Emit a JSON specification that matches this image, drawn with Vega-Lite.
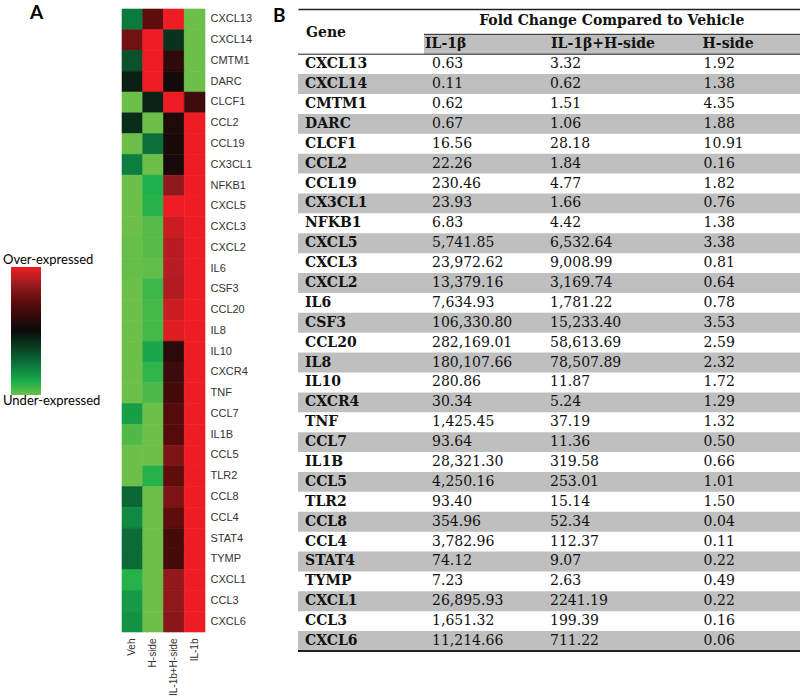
{
  "$schema": "https://vega.github.io/schema/vega-lite/v6.json",
  "background": "white",
  "padding": {"left": 11, "top": 3, "right": 0, "bottom": 0},
  "config": {"view": {"stroke": null}},
  "resolve": {"scale": {"x": "independent", "y": "independent", "color": "independent"}},
  "spacing": 21,
  "datasets": {
    "heat": [
      {"gene":"CXCL13","cond":"Veh","z":-0.55},{"gene":"CXCL13","cond":"H-side","z":0.47},{"gene":"CXCL13","cond":"IL-1b+H-side","z":1},{"gene":"CXCL13","cond":"IL-1b","z":-1},
      {"gene":"CXCL14","cond":"Veh","z":0.55},{"gene":"CXCL14","cond":"H-side","z":1},{"gene":"CXCL14","cond":"IL-1b+H-side","z":-0.2},{"gene":"CXCL14","cond":"IL-1b","z":-1},
      {"gene":"CMTM1","cond":"Veh","z":-0.35},{"gene":"CMTM1","cond":"H-side","z":1},{"gene":"CMTM1","cond":"IL-1b+H-side","z":0.2},{"gene":"CMTM1","cond":"IL-1b","z":-1},
      {"gene":"DARC","cond":"Veh","z":-0.1},{"gene":"DARC","cond":"H-side","z":1},{"gene":"DARC","cond":"IL-1b+H-side","z":0.05},{"gene":"DARC","cond":"IL-1b","z":-1},
      {"gene":"CLCF1","cond":"Veh","z":-1},{"gene":"CLCF1","cond":"H-side","z":-0.12},{"gene":"CLCF1","cond":"IL-1b+H-side","z":1},{"gene":"CLCF1","cond":"IL-1b","z":0.3},
      {"gene":"CCL2","cond":"Veh","z":-0.17},{"gene":"CCL2","cond":"H-side","z":-1},{"gene":"CCL2","cond":"IL-1b+H-side","z":0.12},{"gene":"CCL2","cond":"IL-1b","z":1},
      {"gene":"CCL19","cond":"Veh","z":-1},{"gene":"CCL19","cond":"H-side","z":-0.5},{"gene":"CCL19","cond":"IL-1b+H-side","z":0.1},{"gene":"CCL19","cond":"IL-1b","z":1},
      {"gene":"CX3CL1","cond":"Veh","z":-0.57},{"gene":"CX3CL1","cond":"H-side","z":-1},{"gene":"CX3CL1","cond":"IL-1b+H-side","z":0.08},{"gene":"CX3CL1","cond":"IL-1b","z":1},
      {"gene":"NFKB1","cond":"Veh","z":-1},{"gene":"NFKB1","cond":"H-side","z":-0.8},{"gene":"NFKB1","cond":"IL-1b+H-side","z":0.68},{"gene":"NFKB1","cond":"IL-1b","z":1},
      {"gene":"CXCL5","cond":"Veh","z":-1},{"gene":"CXCL5","cond":"H-side","z":-0.82},{"gene":"CXCL5","cond":"IL-1b+H-side","z":1},{"gene":"CXCL5","cond":"IL-1b","z":1},
      {"gene":"CXCL3","cond":"Veh","z":-1},{"gene":"CXCL3","cond":"H-side","z":-0.95},{"gene":"CXCL3","cond":"IL-1b+H-side","z":0.88},{"gene":"CXCL3","cond":"IL-1b","z":1},
      {"gene":"CXCL2","cond":"Veh","z":-0.98},{"gene":"CXCL2","cond":"H-side","z":-0.95},{"gene":"CXCL2","cond":"IL-1b+H-side","z":0.82},{"gene":"CXCL2","cond":"IL-1b","z":1},
      {"gene":"IL6","cond":"Veh","z":-0.98},{"gene":"IL6","cond":"H-side","z":-0.97},{"gene":"IL6","cond":"IL-1b+H-side","z":0.82},{"gene":"IL6","cond":"IL-1b","z":1},
      {"gene":"CSF3","cond":"Veh","z":-1},{"gene":"CSF3","cond":"H-side","z":-0.88},{"gene":"CSF3","cond":"IL-1b+H-side","z":0.8},{"gene":"CSF3","cond":"IL-1b","z":1},
      {"gene":"CCL20","cond":"Veh","z":-1},{"gene":"CCL20","cond":"H-side","z":-0.9},{"gene":"CCL20","cond":"IL-1b+H-side","z":0.88},{"gene":"CCL20","cond":"IL-1b","z":1},
      {"gene":"IL8","cond":"Veh","z":-1},{"gene":"IL8","cond":"H-side","z":-0.9},{"gene":"IL8","cond":"IL-1b+H-side","z":0.95},{"gene":"IL8","cond":"IL-1b","z":1},
      {"gene":"IL10","cond":"Veh","z":-1},{"gene":"IL10","cond":"H-side","z":-0.76},{"gene":"IL10","cond":"IL-1b+H-side","z":0.18},{"gene":"IL10","cond":"IL-1b","z":1},
      {"gene":"CXCR4","cond":"Veh","z":-1},{"gene":"CXCR4","cond":"H-side","z":-0.85},{"gene":"CXCR4","cond":"IL-1b+H-side","z":0.28},{"gene":"CXCR4","cond":"IL-1b","z":1},
      {"gene":"TNF","cond":"Veh","z":-1},{"gene":"TNF","cond":"H-side","z":-0.92},{"gene":"TNF","cond":"IL-1b+H-side","z":0.33},{"gene":"TNF","cond":"IL-1b","z":1},
      {"gene":"CCL7","cond":"Veh","z":-0.72},{"gene":"CCL7","cond":"H-side","z":-1},{"gene":"CCL7","cond":"IL-1b+H-side","z":0.42},{"gene":"CCL7","cond":"IL-1b","z":1},
      {"gene":"IL1B","cond":"Veh","z":-0.93},{"gene":"IL1B","cond":"H-side","z":-1},{"gene":"IL1B","cond":"IL-1b+H-side","z":0.42},{"gene":"IL1B","cond":"IL-1b","z":1},
      {"gene":"CCL5","cond":"Veh","z":-1},{"gene":"CCL5","cond":"H-side","z":-1},{"gene":"CCL5","cond":"IL-1b+H-side","z":0.6},{"gene":"CCL5","cond":"IL-1b","z":1},
      {"gene":"TLR2","cond":"Veh","z":-1},{"gene":"TLR2","cond":"H-side","z":-0.82},{"gene":"TLR2","cond":"IL-1b+H-side","z":0.47},{"gene":"TLR2","cond":"IL-1b","z":1},
      {"gene":"CCL8","cond":"Veh","z":-0.45},{"gene":"CCL8","cond":"H-side","z":-1},{"gene":"CCL8","cond":"IL-1b+H-side","z":0.6},{"gene":"CCL8","cond":"IL-1b","z":1},
      {"gene":"CCL4","cond":"Veh","z":-0.62},{"gene":"CCL4","cond":"H-side","z":-1},{"gene":"CCL4","cond":"IL-1b+H-side","z":0.47},{"gene":"CCL4","cond":"IL-1b","z":1},
      {"gene":"STAT4","cond":"Veh","z":-0.48},{"gene":"STAT4","cond":"H-side","z":-1},{"gene":"STAT4","cond":"IL-1b+H-side","z":0.33},{"gene":"STAT4","cond":"IL-1b","z":1},
      {"gene":"TYMP","cond":"Veh","z":-0.47},{"gene":"TYMP","cond":"H-side","z":-1},{"gene":"TYMP","cond":"IL-1b+H-side","z":0.33},{"gene":"TYMP","cond":"IL-1b","z":1},
      {"gene":"CXCL1","cond":"Veh","z":-0.82},{"gene":"CXCL1","cond":"H-side","z":-1},{"gene":"CXCL1","cond":"IL-1b+H-side","z":0.7},{"gene":"CXCL1","cond":"IL-1b","z":1},
      {"gene":"CCL3","cond":"Veh","z":-0.7},{"gene":"CCL3","cond":"H-side","z":-1},{"gene":"CCL3","cond":"IL-1b+H-side","z":0.68},{"gene":"CCL3","cond":"IL-1b","z":1},
      {"gene":"CXCL6","cond":"Veh","z":-0.66},{"gene":"CXCL6","cond":"H-side","z":-1},{"gene":"CXCL6","cond":"IL-1b+H-side","z":0.65},{"gene":"CXCL6","cond":"IL-1b","z":1}
    ],
    "tbl": [
      {"gene":"CXCL13","il1b":"0.63","both":"3.32","hside":"1.92"},
      {"gene":"CXCL14","il1b":"0.11","both":"0.62","hside":"1.38"},
      {"gene":"CMTM1","il1b":"0.62","both":"1.51","hside":"4.35"},
      {"gene":"DARC","il1b":"0.67","both":"1.06","hside":"1.88"},
      {"gene":"CLCF1","il1b":"16.56","both":"28.18","hside":"10.91"},
      {"gene":"CCL2","il1b":"22.26","both":"1.84","hside":"0.16"},
      {"gene":"CCL19","il1b":"230.46","both":"4.77","hside":"1.82"},
      {"gene":"CX3CL1","il1b":"23.93","both":"1.66","hside":"0.76"},
      {"gene":"NFKB1","il1b":"6.83","both":"4.42","hside":"1.38"},
      {"gene":"CXCL5","il1b":"5,741.85","both":"6,532.64","hside":"3.38"},
      {"gene":"CXCL3","il1b":"23,972.62","both":"9,008.99","hside":"0.81"},
      {"gene":"CXCL2","il1b":"13,379.16","both":"3,169.74","hside":"0.64"},
      {"gene":"IL6","il1b":"7,634.93","both":"1,781.22","hside":"0.78"},
      {"gene":"CSF3","il1b":"106,330.80","both":"15,233.40","hside":"3.53"},
      {"gene":"CCL20","il1b":"282,169.01","both":"58,613.69","hside":"2.59"},
      {"gene":"IL8","il1b":"180,107.66","both":"78,507.89","hside":"2.32"},
      {"gene":"IL10","il1b":"280.86","both":"11.87","hside":"1.72"},
      {"gene":"CXCR4","il1b":"30.34","both":"5.24","hside":"1.29"},
      {"gene":"TNF","il1b":"1,425.45","both":"37.19","hside":"1.32"},
      {"gene":"CCL7","il1b":"93.64","both":"11.36","hside":"0.50"},
      {"gene":"IL1B","il1b":"28,321.30","both":"319.58","hside":"0.66"},
      {"gene":"CCL5","il1b":"4,250.16","both":"253.01","hside":"1.01"},
      {"gene":"TLR2","il1b":"93.40","both":"15.14","hside":"1.50"},
      {"gene":"CCL8","il1b":"354.96","both":"52.34","hside":"0.04"},
      {"gene":"CCL4","il1b":"3,782.96","both":"112.37","hside":"0.11"},
      {"gene":"STAT4","il1b":"74.12","both":"9.07","hside":"0.22"},
      {"gene":"TYMP","il1b":"7.23","both":"2.63","hside":"0.49"},
      {"gene":"CXCL1","il1b":"26,895.93","both":"2241.19","hside":"0.22"},
      {"gene":"CCL3","il1b":"1,651.32","both":"199.39","hside":"0.16"},
      {"gene":"CXCL6","il1b":"11,214.66","both":"711.22","hside":"0.06"}
    ]
  },
  "hconcat": [
    {
      "title": {"text": "A", "anchor": "start", "frame": "bounds", "dx": 19, "dy": 14, "offset": 0, "font": "Lato", "fontSize": 19, "fontWeight": "bold", "color": "black"},
      "data": {"name": "heat"},
      "width": 83,
      "height": 623,
      "mark": {"type": "rect", "strokeWidth": 0.6},
      "encoding": {
        "x": {"field": "cond", "type": "nominal", "sort": null,
              "scale": {"paddingInner": 0, "paddingOuter": 0},
              "axis": {"orient": "bottom", "title": null, "labelAngle": -90, "labelPadding": 6, "ticks": false, "domain": false, "labelFont": "Liberation Sans", "labelFontSize": 10, "labelColor": "#333"}},
        "y": {"field": "gene", "type": "nominal", "sort": null,
              "scale": {"paddingInner": 0, "paddingOuter": 0},
              "axis": {"orient": "right", "title": null, "labelPadding": 5, "ticks": false, "domain": false, "labelFont": "Liberation Sans", "labelFontSize": 11, "labelColor": "#333"}},
        "stroke": {"field": "z", "type": "quantitative", "legend": null,
                  "scale": {"domain": [-1, -0.8, -0.55, 0, 0.45, 0.75, 1], "range": ["#6cbf48", "#1db04b", "#0b7a3e", "#0a0a0a", "#5a0b0b", "#a01c20", "#ee1d24"], "interpolate": "rgb"}},
        "color": {"field": "z", "type": "quantitative",
                  "scale": {"domain": [-1, -0.8, -0.55, 0, 0.45, 0.75, 1], "range": ["#6cbf48", "#1db04b", "#0b7a3e", "#0a0a0a", "#5a0b0b", "#a01c20", "#ee1d24"], "interpolate": "rgb"},
                  "legend": {"orient": "none", "legendX": -111, "legendY": 258, "direction": "vertical", "title": null, "values": [-1, 1], "gradientLength": 128, "gradientThickness": 30, "gradientStrokeWidth": 0, "padding": 0,
                             "labelExpr": "datum.value > 0 ? 'Over-expressed' : 'Under-expressed'", "labelOffset": -38, "labelFlush": false, "labelOverlap": false,
                             "labelFont": "Lato", "labelFontSize": 13, "labelColor": "black",
                             "encode": {"labels": {"update": {"baseline": {"signal": "datum.value > 0 ? 'bottom' : 'top'"}}}}}}
      }
    },
    {
      "title": {"text": "B", "anchor": "start", "frame": "group", "dx": -25, "dy": 17, "offset": 0, "font": "Lato", "fontSize": 19, "fontWeight": "bold", "color": "black"},
      "width": 502,
      "height": 642,
      "data": {"name": "tbl"},
      "layer": [
        {
          "transform": [{"window": [{"op": "row_number", "as": "rn"}]}, {"filter": "datum.rn % 2 == 0"}],
          "mark": {"type": "rect", "color": "#bfbfbf"},
          "encoding": {
            "y": {"field": "gene", "type": "nominal", "axis": null,
                  "scale": {"domain": ["h1","h2","CXCL13","CXCL14","CMTM1","DARC","CLCF1","CCL2","CCL19","CX3CL1","NFKB1","CXCL5","CXCL3","CXCL2","IL6","CSF3","CCL20","IL8","IL10","CXCR4","TNF","CCL7","IL1B","CCL5","TLR2","CCL8","CCL4","STAT4","TYMP","CXCL1","CCL3","CXCL6"], "paddingInner": 0, "paddingOuter": 0.136, "align": 1}},
            "x": {"datum": 0, "type": "quantitative", "scale": {"domain": [0, 1], "nice": false, "zero": false},
                  "axis": {"orient": "top", "labels": false, "ticks": false, "grid": false, "title": null, "domain": true, "domainColor": "#222", "domainWidth": 1.6}},
            "x2": {"datum": 1}
          }
        },
        {
          "data": {"values": [{}]},
          "mark": {"type": "rect", "color": "#bfbfbf"},
          "encoding": {
            "y": {"datum": "h2", "type": "nominal", "axis": null},
            "x": {"datum": 0.251, "type": "quantitative", "axis": {"orient": "top", "labels": false, "ticks": false, "grid": false, "title": null, "domain": true, "domainColor": "#222", "domainWidth": 1.6}},
            "x2": {"datum": 1}
          }
        },
        {
          "data": {"values": [{}]},
          "mark": {"type": "rule", "color": "#222", "strokeWidth": 1},
          "encoding": {
            "y": {"datum": "h2", "type": "nominal", "bandPosition": 0, "axis": null},
            "x": {"datum": 0.251, "type": "quantitative", "axis": {"orient": "top", "labels": false, "ticks": false, "grid": false, "title": null, "domain": true, "domainColor": "#222", "domainWidth": 1.6}},
            "x2": {"datum": 1}
          }
        },
        {
          "data": {"values": [{}]},
          "mark": {"type": "rule", "color": "#222", "strokeWidth": 1},
          "encoding": {
            "y": {"datum": "CXCL13", "type": "nominal", "bandPosition": 0, "axis": null},
            "x": {"datum": 0, "type": "quantitative", "axis": {"orient": "top", "labels": false, "ticks": false, "grid": false, "title": null, "domain": true, "domainColor": "#222", "domainWidth": 1.6}},
            "x2": {"datum": 1}
          }
        },
        {
          "data": {"values": [{}]},
          "mark": {"type": "rule", "color": "#222", "strokeWidth": 2},
          "encoding": {
            "y": {"datum": "CXCL6", "type": "nominal", "bandPosition": 1, "axis": null},
            "x": {"datum": 0, "type": "quantitative", "axis": {"orient": "top", "labels": false, "ticks": false, "grid": false, "title": null, "domain": true, "domainColor": "#222", "domainWidth": 1.6}},
            "x2": {"datum": 1}
          }
        },
        {
          "data": {"values": [{}]},
          "mark": {"type": "text", "text": "Gene", "font": "DejaVu Serif", "fontWeight": "bold", "fontSize": 14, "align": "left", "baseline": "middle", "color": "#111"},
          "encoding": {
            "y": {"datum": "h1", "type": "nominal", "bandPosition": 0.92, "axis": null},
            "x": {"datum": 0.016, "type": "quantitative", "axis": {"orient": "top", "labels": false, "ticks": false, "grid": false, "title": null, "domain": true, "domainColor": "#222", "domainWidth": 1.6}}
          }
        },
        {
          "data": {"values": [{}]},
          "mark": {"type": "text", "text": "Fold Change Compared to Vehicle", "font": "DejaVu Serif", "fontWeight": "bold", "fontSize": 14, "align": "center", "baseline": "middle", "color": "#111"},
          "encoding": {
            "y": {"datum": "h1", "type": "nominal", "bandPosition": 0.35, "axis": null},
            "x": {"datum": 0.625, "type": "quantitative", "axis": {"orient": "top", "labels": false, "ticks": false, "grid": false, "title": null, "domain": true, "domainColor": "#222", "domainWidth": 1.6}}
          }
        },
        {
          "data": {"values": [{}]},
          "mark": {"type": "text", "text": "IL-1β", "font": "DejaVu Serif", "fontWeight": "bold", "fontSize": 14, "align": "left", "baseline": "middle", "color": "#111"},
          "encoding": {
            "y": {"datum": "h2", "type": "nominal", "bandPosition": 0.5, "axis": null},
            "x": {"datum": 0.253, "type": "quantitative", "axis": {"orient": "top", "labels": false, "ticks": false, "grid": false, "title": null, "domain": true, "domainColor": "#222", "domainWidth": 1.6}}
          }
        },
        {
          "data": {"values": [{}]},
          "mark": {"type": "text", "text": "IL-1β+H-side", "font": "DejaVu Serif", "fontWeight": "bold", "fontSize": 14, "align": "left", "baseline": "middle", "color": "#111"},
          "encoding": {
            "y": {"datum": "h2", "type": "nominal", "bandPosition": 0.5, "axis": null},
            "x": {"datum": 0.504, "type": "quantitative", "axis": {"orient": "top", "labels": false, "ticks": false, "grid": false, "title": null, "domain": true, "domainColor": "#222", "domainWidth": 1.6}}
          }
        },
        {
          "data": {"values": [{}]},
          "mark": {"type": "text", "text": "H-side", "font": "DejaVu Serif", "fontWeight": "bold", "fontSize": 14, "align": "left", "baseline": "middle", "color": "#111"},
          "encoding": {
            "y": {"datum": "h2", "type": "nominal", "bandPosition": 0.5, "axis": null},
            "x": {"datum": 0.806, "type": "quantitative", "axis": {"orient": "top", "labels": false, "ticks": false, "grid": false, "title": null, "domain": true, "domainColor": "#222", "domainWidth": 1.6}}
          }
        },
        {
          "mark": {"type": "text", "font": "DejaVu Serif", "fontWeight": "bold", "fontSize": 14, "align": "left", "baseline": "middle", "color": "#111"},
          "encoding": {
            "y": {"field": "gene", "type": "nominal", "axis": null},
            "x": {"datum": 0.014, "type": "quantitative", "axis": {"orient": "top", "labels": false, "ticks": false, "grid": false, "title": null, "domain": true, "domainColor": "#222", "domainWidth": 1.6}},
            "text": {"field": "gene"}
          }
        },
        {
          "mark": {"type": "text", "font": "DejaVu Serif", "fontSize": 14, "align": "left", "baseline": "middle", "color": "#111"},
          "encoding": {
            "y": {"field": "gene", "type": "nominal", "axis": null},
            "x": {"datum": 0.267, "type": "quantitative", "axis": {"orient": "top", "labels": false, "ticks": false, "grid": false, "title": null, "domain": true, "domainColor": "#222", "domainWidth": 1.6}},
            "text": {"field": "il1b"}
          }
        },
        {
          "mark": {"type": "text", "font": "DejaVu Serif", "fontSize": 14, "align": "left", "baseline": "middle", "color": "#111"},
          "encoding": {
            "y": {"field": "gene", "type": "nominal", "axis": null},
            "x": {"datum": 0.502, "type": "quantitative", "axis": {"orient": "top", "labels": false, "ticks": false, "grid": false, "title": null, "domain": true, "domainColor": "#222", "domainWidth": 1.6}},
            "text": {"field": "both"}
          }
        },
        {
          "mark": {"type": "text", "font": "DejaVu Serif", "fontSize": 14, "align": "left", "baseline": "middle", "color": "#111"},
          "encoding": {
            "y": {"field": "gene", "type": "nominal", "axis": null},
            "x": {"datum": 0.808, "type": "quantitative", "axis": {"orient": "top", "labels": false, "ticks": false, "grid": false, "title": null, "domain": true, "domainColor": "#222", "domainWidth": 1.6}},
            "text": {"field": "hside"}
          }
        }
      ]
    }
  ]
}
